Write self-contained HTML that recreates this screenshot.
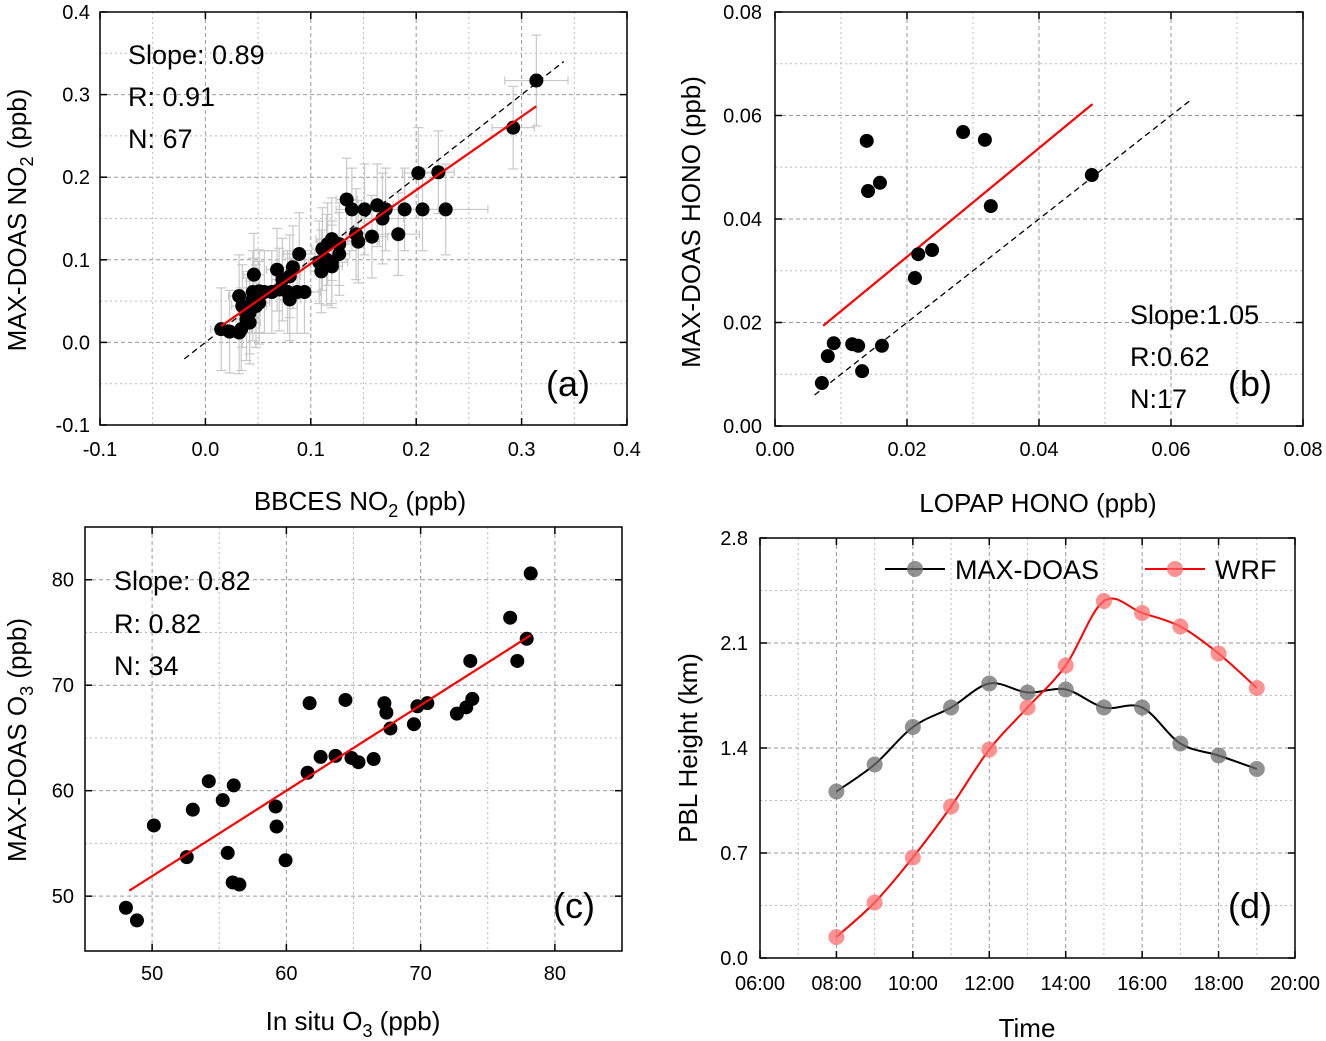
<!DOCTYPE html>
<html><head><meta charset="utf-8"><style>
html,body{margin:0;padding:0;background:#fff}
svg{display:block;font-family:"Liberation Sans",sans-serif}
</style></head><body>
<svg id="fig" width="1326" height="1041" viewBox="0 0 1326 1041"></svg>
<script>
// ---- Panel (a) data ----
const aX=[0.314,0.292,0.202,0.221,0.228,0.206,0.189,0.183,0.158,0.168,0.171,0.163,0.151,0.139,0.134,0.145,0.143,0.127,0.120,0.116,0.111,0.115,0.108,0.120,0.127,0.110,0.120,0.089,0.083,0.080,0.068,0.073,0.070,0.078,0.094,0.087,0.080,0.063,0.056,0.046,0.051,0.045,0.048,0.042,0.032,0.035,0.039,0.034,0.042,0.032,0.023,0.015,0.045,0.051];
const aY=[0.317,0.260,0.205,0.206,0.161,0.161,0.161,0.131,0.128,0.150,0.161,0.166,0.161,0.161,0.173,0.122,0.131,0.119,0.125,0.119,0.113,0.100,0.097,0.097,0.107,0.086,0.092,0.107,0.091,0.080,0.088,0.076,0.064,0.061,0.061,0.061,0.052,0.061,0.061,0.082,0.062,0.052,0.044,0.036,0.056,0.044,0.028,0.016,0.024,0.012,0.013,0.016,0.061,0.048];
const aYerr=[0.055,0.05,0.055,0.05,0.055,0.05,0.05,0.05,0.05,0.055,0.05,0.05,0.055,0.05,0.05,0.05,0.055,0.05,0.05,0.05,0.05,0.055,0.05,0.05,0.05,0.05,0.05,0.05,0.05,0.05,0.05,0.05,0.05,0.05,0.05,0.05,0.05,0.05,0.05,0.05,0.05,0.05,0.05,0.05,0.05,0.05,0.05,0.05,0.05,0.05,0.05,0.05,0.05,0.05];
const aXerr=[0.03,0.02,0.015,0.015,0.04,0.02,0.02,0.02,0.015,0.02,0.02,0.015,0.015,0.015,0.01,0.02,0.01,0.015,0.015,0.01,0.01,0.01,0.01,0.015,0.01,0.01,0.01,0.015,0.01,0.01,0.01,0.01,0.01,0.01,0.015,0.01,0.01,0.01,0.01,0.01,0.01,0.01,0.01,0.01,0.01,0.01,0.01,0.01,0.01,0.01,0.01,0.01,0.01,0.01];
const aFit=[0.015,0.314]; const aSlope=0.89; const aIntercept=0.0064;
// ---- Panel (b) data ----
const bX=[0.0071,0.0080,0.0089,0.0117,0.0126,0.0132,0.0162,0.0139,0.0141,0.0159,0.0212,0.0217,0.0238,0.0285,0.0318,0.0327,0.0480];
const bY=[0.0083,0.0135,0.0160,0.0158,0.0155,0.0106,0.0155,0.0551,0.0454,0.0470,0.0286,0.0332,0.0340,0.0568,0.0553,0.0425,0.0485];
const bFit=[0.0073,0.0481]; const bSlope=1.05; const bIntercept=0.0117;
// ---- Panel (c) data ----
const cX=[48.05,48.87,50.13,52.58,53.03,54.22,55.26,56.08,55.63,56.0,56.5,59.2,59.27,59.94,61.58,61.73,62.55,63.66,64.85,65.37,64.4,66.5,67.3,67.45,67.75,69.5,69.76,70.5,72.7,73.4,73.85,73.7,76.67,77.2,77.9,78.2];
const cY=[48.9,47.7,56.7,53.7,58.2,60.9,59.1,60.5,54.1,51.3,51.1,58.5,56.6,53.4,61.7,68.3,63.2,63.3,63.1,62.7,68.6,63.0,68.3,67.4,65.9,66.3,68.0,68.3,67.3,67.9,68.7,72.3,76.4,72.3,74.4,80.6];
const cFit=[48.3,78.2]; const cSlope=0.81; const cIntercept=11.4;
// ---- Panel (d) data ----
const dHours=[8,9,10,11,12,13,14,15,16,17,18,19];
const dMax=[1.11,1.29,1.54,1.67,1.83,1.77,1.79,1.67,1.67,1.43,1.35,1.26];
const dWrf=[0.14,0.37,0.67,1.01,1.39,1.67,1.95,2.38,2.30,2.21,2.03,1.80];
const dXTicks=["06:00","08:00","10:00","12:00","14:00","16:00","18:00","20:00"];
const dYTicks=["0.0","0.7","1.4","2.1","2.8"];

const NS="http://www.w3.org/2000/svg";
const svg=document.getElementById('fig');
function el(tag,attrs,parent,text){const e=document.createElementNS(NS,tag);for(const k in attrs)e.setAttribute(k,attrs[k]);if(text!==undefined)e.textContent=text;(parent||svg).appendChild(e);return e;}
function scale(d0,d1,r0,r1){return v=>r0+(v-d0)/(d1-d0)*(r1-r0);}

function panel(name,L,R,T,B,xd,yd,xt,yt,xlab,ylab,xfmt,yfmt,xTickY,yTickX){
  const g=el('g',{},svg);
  
  
  const sx=scale(xd[0],xd[1],L,R), sy=scale(yd[0],yd[1],B,T);
  const grid=el('g',{},g);
  
  
  for(let i=0;i<xt.length;i++){
    const x=sx(xt[i]);
    if(x>L+1&&x<R-1) el('line',{x1:x,y1:T,x2:x,y2:B,stroke:'#999','stroke-width':1,'stroke-dasharray':'4,3'},grid);
    if(i<xt.length-1){const xm=sx((xt[i]+xt[i+1])/2);el('line',{x1:xm,y1:T,x2:xm,y2:B,stroke:'#bbb','stroke-width':1,'stroke-dasharray':'2,3'},grid);}
  }
  for(let i=0;i<yt.length;i++){
    const y=sy(yt[i]);
    if(y>T+1&&y<B-1) el('line',{x1:L,y1:y,x2:R,y2:y,stroke:'#999','stroke-width':1,'stroke-dasharray':'4,3'},grid);
    if(i<yt.length-1){const ym=sy((yt[i]+yt[i+1])/2);el('line',{x1:L,y1:ym,x2:R,y2:ym,stroke:'#bbb','stroke-width':1,'stroke-dasharray':'2,3'},grid);}
  }
  const xa=el('g',{},g);
  
  
  xt.forEach((v,i)=>{const x=sx(v);
    el('line',{x1:x,y1:B,x2:x,y2:B-7,stroke:'#000','stroke-width':1.5},xa);
    el('line',{x1:x,y1:T,x2:x,y2:T+7,stroke:'#000','stroke-width':1.5},xa);
    const t=el('text',{x:x,y:xTickY,'font-size':20,'text-anchor':'middle'},xa,xfmt(v,i));
    
    
  });
  const ya=el('g',{},g);
  
  
  yt.forEach((v,i)=>{const y=sy(v);
    el('line',{x1:L,y1:y,x2:L+7,y2:y,stroke:'#000','stroke-width':1.5},ya);
    el('line',{x1:R,y1:y,x2:R-7,y2:y,stroke:'#000','stroke-width':1.5},ya);
    const t=el('text',{x:yTickX,y:y+7,'font-size':20,'text-anchor':'end'},ya,yfmt(v,i));
    
    
  });
  const fr=el('rect',{x:L,y:T,width:R-L,height:B-T,fill:'none',stroke:'#000','stroke-width':1.5},g);
  
  
  return {g,sx,sy};
}
function label(g,html,attrs,name){const t=el('text',attrs,g);t.innerHTML=html;return t;}
function dot(g,x,y,r,fill,name){const c=el('circle',{cx:x,cy:y,r:r,fill:fill},g);return c;}

// ===== Panel (a)
{
const P=panel('panel-a',100,627,12,425,[-0.1,0.4],[-0.1,0.4],[-0.1,0,0.1,0.2,0.3,0.4],[-0.1,0,0.1,0.2,0.3,0.4],'','',
  v=>v.toFixed(1),v=>v.toFixed(1),456,90);
const g=P.g;
const eb=el('g',{stroke:'#c8c8c8','stroke-width':1.2,fill:'none'},g);


aX.forEach((x,i)=>{const px=P.sx(x),py=P.sy(aY[i]);
  const y1=P.sy(aY[i]+aYerr[i]),y2=P.sy(aY[i]-aYerr[i]);
  const x1=P.sx(x-aXerr[i]),x2=P.sx(x+aXerr[i]);
  el('line',{x1:px,y1:y1,x2:px,y2:y2},eb);
  el('line',{x1:px-5,y1:y1,x2:px+5,y2:y1},eb);el('line',{x1:px-5,y1:y2,x2:px+5,y2:y2},eb);
  el('line',{x1:x1,y1:py,x2:x2,y2:py},eb);
  el('line',{x1:x1,y1:py-4,x2:x1,y2:py+4},eb);el('line',{x1:x2,y1:py-4,x2:x2,y2:py+4},eb);
});
const one=el('line',{x1:P.sx(-0.02),y1:P.sy(-0.02),x2:P.sx(0.34),y2:P.sy(0.34),stroke:'#000','stroke-width':1.3,'stroke-dasharray':'6,4'},g);


aX.forEach((x,i)=>dot(g,P.sx(x),P.sy(aY[i]),7,'#000','data-point'));
const fit=el('line',{x1:P.sx(aFit[0]),y1:P.sy(aSlope*aFit[0]+aIntercept),x2:P.sx(aFit[1]),y2:P.sy(aSlope*aFit[1]+aIntercept),stroke:'#f00','stroke-width':2.2},g);


label(g,'Slope: 0.89',{x:128,y:64,'font-size':27},'slope-annotation');
label(g,'R: 0.91',{x:128,y:106,'font-size':27},'r-annotation');
label(g,'N: 67',{x:128,y:148,'font-size':27},'n-annotation');
label(g,'(a)',{x:546,y:396,'font-size':36},'panel-label');
label(g,'BBCES NO<tspan font-size="18" dy="7">2</tspan><tspan dy="-7"> (ppb)</tspan>',{x:360,y:510,'font-size':26,'text-anchor':'middle'},'x-axis-title');
label(g,'MAX-DOAS NO<tspan font-size="18" dy="7">2</tspan><tspan dy="-7"> (ppb)</tspan>',{x:0,y:0,'font-size':26,'text-anchor':'middle',transform:'translate(26,220) rotate(-90)'},'y-axis-title');
}
// ===== Panel (b)
{
const P=panel('panel-b',775,1303,12,426,[0,0.08],[0,0.08],[0,0.02,0.04,0.06,0.08],[0,0.02,0.04,0.06,0.08],'','',
  v=>v.toFixed(2),v=>v.toFixed(2),456,762);
const g=P.g;
const one=el('line',{x1:P.sx(0.006),y1:P.sy(0.006),x2:P.sx(0.063),y2:P.sy(0.063),stroke:'#000','stroke-width':1.3,'stroke-dasharray':'6,4'},g);


const fit=el('line',{x1:P.sx(bFit[0]),y1:P.sy(bSlope*bFit[0]+bIntercept),x2:P.sx(bFit[1]),y2:P.sy(bSlope*bFit[1]+bIntercept),stroke:'#f00','stroke-width':2.2},g);


bX.forEach((x,i)=>dot(g,P.sx(x),P.sy(bY[i]),7,'#000','data-point'));
label(g,'Slope:1.05',{x:1130,y:324,'font-size':27},'slope-annotation');
label(g,'R:0.62',{x:1130,y:366,'font-size':27},'r-annotation');
label(g,'N:17',{x:1130,y:408,'font-size':27},'n-annotation');
label(g,'(b)',{x:1228,y:396,'font-size':36},'panel-label');
label(g,'LOPAP HONO (ppb)',{x:1038,y:512,'font-size':26,'text-anchor':'middle'},'x-axis-title');
label(g,'MAX-DOAS HONO (ppb)',{x:0,y:0,'font-size':26,'text-anchor':'middle',transform:'translate(700,222) rotate(-90)'},'y-axis-title');
}
// ===== Panel (c)
{
const sxd=[45,85], syd=[44.8,85];
const P=panel('panel-c',85,622,527,951,sxd,syd,[50,60,70,80],[50,60,70,80],'','',
  v=>String(v),v=>String(v),980,74);
const g=P.g;
cX.forEach((x,i)=>dot(g,P.sx(x),P.sy(cY[i]),7,'#000','data-point'));
const fit=el('line',{x1:P.sx(cFit[0]),y1:P.sy(cSlope*cFit[0]+cIntercept),x2:P.sx(cFit[1]),y2:P.sy(cSlope*cFit[1]+cIntercept),stroke:'#f00','stroke-width':2.2},g);


label(g,'Slope: 0.82',{x:114,y:590,'font-size':27},'slope-annotation');
label(g,'R: 0.82',{x:114,y:633,'font-size':27},'r-annotation');
label(g,'N: 34',{x:114,y:675,'font-size':27},'n-annotation');
label(g,'(c)',{x:553,y:918,'font-size':36},'panel-label');
label(g,'In situ O<tspan font-size="18" dy="7">3</tspan><tspan dy="-7"> (ppb)</tspan>',{x:353,y:1030,'font-size':26,'text-anchor':'middle'},'x-axis-title');
label(g,'MAX-DOAS O<tspan font-size="18" dy="7">3</tspan><tspan dy="-7"> (ppb)</tspan>',{x:0,y:0,'font-size':26,'text-anchor':'middle',transform:'translate(26,740) rotate(-90)'},'y-axis-title');
}
// ===== Panel (d)
{
const P=panel('panel-d',760,1295,538,958,[6,20],[0,2.8],[6,8,10,12,14,16,18,20],[0,0.7,1.4,2.1,2.8],'','',
  (v,i)=>dXTicks[i],(v,i)=>dYTicks[i],990,748);
const g=P.g;
function smooth(xs,ys){const p=xs.map((x,i)=>[P.sx(x),P.sy(ys[i])]);let d='M'+p[0][0]+','+p[0][1];
  for(let i=0;i<p.length-1;i++){const p0=p[Math.max(0,i-1)],p1=p[i],p2=p[i+1],p3=p[Math.min(p.length-1,i+2)];
    const c1=[p1[0]+(p2[0]-p0[0])/6,p1[1]+(p2[1]-p0[1])/6],c2=[p2[0]-(p3[0]-p1[0])/6,p2[1]-(p3[1]-p1[1])/6];
    d+=' C'+c1[0]+','+c1[1]+' '+c2[0]+','+c2[1]+' '+p2[0]+','+p2[1];}
  return d;}
const l1=el('path',{d:smooth(dHours,dMax),fill:'none',stroke:'#000','stroke-width':2},g);


const l2=el('path',{d:smooth(dHours,dWrf),fill:'none',stroke:'#f00','stroke-width':2},g);


dHours.forEach((h,i)=>dot(g,P.sx(h),P.sy(dMax[i]),8,'rgba(110,110,110,0.75)','max-doas-point'));
dHours.forEach((h,i)=>dot(g,P.sx(h),P.sy(dWrf[i]),8,'rgba(255,110,110,0.75)','wrf-point'));
const lg=el('g',{},g);


el('line',{x1:885,y1:569,x2:945,y2:569,stroke:'#000','stroke-width':2},lg);
dot(lg,915,569,8,'rgba(110,110,110,0.75)','legend-marker-max-doas');
label(lg,'MAX-DOAS',{x:955,y:579,'font-size':27},'legend-entry-max-doas');
el('line',{x1:1145,y1:569,x2:1205,y2:569,stroke:'#f00','stroke-width':2},lg);
dot(lg,1175,569,8,'rgba(255,110,110,0.75)','legend-marker-wrf');
label(lg,'WRF',{x:1215,y:579,'font-size':27},'legend-entry-wrf');
label(g,'(d)',{x:1228,y:918,'font-size':36},'panel-label');
label(g,'Time',{x:1027,y:1037,'font-size':26,'text-anchor':'middle'},'x-axis-title');
label(g,'PBL Height (km)',{x:0,y:0,'font-size':26,'text-anchor':'middle',transform:'translate(697,748) rotate(-90)'},'y-axis-title');
}
</script>
</body></html>
